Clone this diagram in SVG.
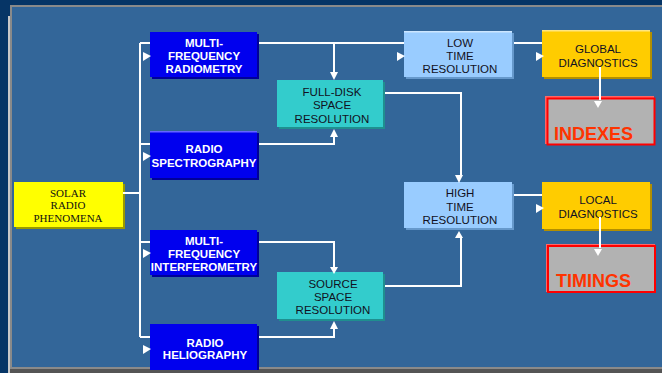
<svg xmlns="http://www.w3.org/2000/svg" width="662" height="373" viewBox="0 0 662 373">
<defs>
<style>
.t{font-family:"Liberation Sans",Arial,sans-serif;font-size:11.5px;text-anchor:middle}
.w{fill:#ffffff;font-weight:bold}
.d{fill:#111122}
.big{font-family:"Liberation Sans",Arial,sans-serif;font-size:18px;font-weight:bold;fill:#ff3300}
.ser{font-family:"Liberation Serif","Times New Roman",serif;font-size:11px;text-anchor:middle;fill:#111111}
.ln{fill:none;stroke:#ffffff;stroke-width:2}
.ah{fill:#ffffff}
</style>
</defs>
<rect x="0" y="0" width="662" height="373" fill="#063566"/>
<rect x="10" y="5" width="652" height="365" fill="#336699"/>
<rect x="10" y="5" width="652" height="2" fill="#8a8a8a"/>
<rect x="10" y="5" width="2" height="365" fill="#8a8a8a"/>
<rect x="8" y="16" width="2" height="357" fill="#c8c8c8"/>
<rect x="10" y="367" width="652" height="2" fill="#8a8a8a"/>
<rect x="10" y="369" width="652" height="4" fill="#555555"/>

<g id="solar">
<rect x="16" y="184" width="109" height="45" fill="#999900"/>
<rect x="14" y="182" width="109" height="45" fill="#ffff00"/>
<text class="ser" x="68" y="197">SOLAR</text>
<text class="ser" x="68" y="209">RADIO</text>
<text class="ser" x="68" y="222">PHENOMENA</text>
</g>

<g id="radiometry">
<rect x="152" y="34" width="107" height="45" fill="#000099"/>
<rect x="150" y="32" width="107" height="45" fill="#0000ee"/>
<text class="t w" x="204" y="47">MULTI-</text>
<text class="t w" x="204" y="60">FREQUENCY</text>
<text class="t w" x="204" y="73">RADIOMETRY</text>
</g>

<g id="spectrography">
<rect x="152" y="133" width="107" height="47" fill="#000099"/>
<rect x="150" y="131" width="107" height="47" fill="#0000ee"/>
<rect x="150" y="131" width="107" height="1.5" fill="#6666ff"/>
<text class="t w" x="204" y="153">RADIO</text>
<text class="t w" x="204" y="167">SPECTROGRAPHY</text>
</g>

<g id="interferometry">
<rect x="152" y="232" width="107" height="45" fill="#000099"/>
<rect x="150" y="230" width="107" height="45" fill="#0000ee"/>
<text class="t w" x="204" y="245">MULTI-</text>
<text class="t w" x="204" y="258">FREQUENCY</text>
<text class="t w" x="204" y="271">INTERFEROMETRY</text>
</g>

<g id="heliography">
<rect x="152" y="326" width="107" height="44" fill="#000099"/>
<rect x="150" y="324" width="107" height="46" fill="#0000ee"/>
<text class="t w" x="205" y="347">RADIO</text>
<text class="t w" x="205" y="359">HELIOGRAPHY</text>
</g>

<g id="fulldisk">
<rect x="279" y="82" width="106" height="47" fill="#1f8f8f"/>
<rect x="277" y="80" width="106" height="47" fill="#33cccc"/>
<text class="t d" x="332" y="96">FULL-DISK</text>
<text class="t d" x="332" y="109">SPACE</text>
<text class="t d" x="332" y="123">RESOLUTION</text>
</g>

<g id="source">
<rect x="279" y="274" width="106" height="47" fill="#1f8f8f"/>
<rect x="277" y="272" width="106" height="47" fill="#33cccc"/>
<text class="t d" x="333" y="288">SOURCE</text>
<text class="t d" x="333" y="301">SPACE</text>
<text class="t d" x="333" y="314">RESOLUTION</text>
</g>

<g id="lowtime">
<rect x="406" y="33" width="108" height="46" fill="#6699cc"/>
<rect x="404" y="31" width="108" height="46" fill="#99ccff"/>
<rect x="404" y="31" width="108" height="1.5" fill="#cce6ff"/>
<text class="t d" x="460" y="47">LOW</text>
<text class="t d" x="460" y="60">TIME</text>
<text class="t d" x="460" y="73">RESOLUTION</text>
</g>

<g id="hightime">
<rect x="406" y="184" width="108" height="46" fill="#6699cc"/>
<rect x="404" y="182" width="108" height="46" fill="#99ccff"/>
<text class="t d" x="460" y="197">HIGH</text>
<text class="t d" x="460" y="211">TIME</text>
<text class="t d" x="460" y="224">RESOLUTION</text>
</g>

<g id="global">
<rect x="544" y="32" width="108" height="47" fill="#b38f00"/>
<rect x="542" y="30" width="108" height="47" fill="#ffcc00"/>
<rect x="542" y="30" width="108" height="1.5" fill="#ffe680"/>
<text class="t d" x="598" y="53">GLOBAL</text>
<text class="t d" x="598" y="67">DIAGNOSTICS</text>
</g>

<g id="local">
<rect x="544" y="184" width="108" height="47" fill="#b38f00"/>
<rect x="542" y="182" width="108" height="47" fill="#ffcc00"/>
<text class="t d" x="598" y="204">LOCAL</text>
<text class="t d" x="598" y="218">DIAGNOSTICS</text>
</g>

<g id="indexes">
<rect x="545" y="96" width="109" height="48" fill="#ff6666"/>
<rect x="547.5" y="98.5" width="107" height="46" fill="#b2b2b2" stroke="#ff0000" stroke-width="2"/>
<text class="big" x="554" y="140">INDEXES</text>
</g>

<g id="timings">
<rect x="546" y="244" width="109" height="48" fill="#ff6666"/>
<rect x="548" y="246" width="107" height="46" fill="#b2b2b2" stroke="#ff0000" stroke-width="2"/>
<text class="big" x="556" y="287">TIMINGS</text>
</g>

<g id="connectors">
<path class="ln" d="M123,193 H140 M140,43 V337 M140,43 H150 M140,144 H150 M140,242 H150 M140,337 H150"/>
<path class="ln" d="M259,43 H404 M334,43 V74"/>
<path class="ln" d="M259,144 H334 V132"/>
<path class="ln" d="M385,93 H461 V176"/>
<path class="ln" d="M385,286 H461 V236"/>
<path class="ln" d="M259,242 H334 V268"/>
<path class="ln" d="M259,337 H334 V324"/>
<path class="ln" d="M514,43 H542"/>
<path class="ln" d="M514,195 H542"/>
<path class="ln" d="M600,67 V100"/>
<path class="ln" d="M600,217 V248"/>
<path class="ah" d="M143,52 L151,56 L143,61 Z"/>
<path class="ah" d="M143,152 L151,156 L143,161 Z"/>
<path class="ah" d="M143,249 L151,253 L143,258 Z"/>
<path class="ah" d="M143,345 L151,349 L143,354 Z"/>
<path class="ah" d="M397,52 L405,56 L397,61 Z"/>
<path class="ah" d="M536,52 L544,56 L536,61 Z"/>
<path class="ah" d="M536,204 L544,208 L536,213 Z"/>
<path class="ah" d="M330,72 L338,72 L334,80 Z"/>
<path class="ah" d="M330,137 L338,137 L334,129 Z"/>
<path class="ah" d="M330,267 L338,267 L334,274 Z"/>
<path class="ah" d="M330,329 L338,329 L334,321 Z"/>
<path class="ah" d="M455,175 L463,175 L459,183 Z"/>
<path class="ah" d="M455,238 L463,238 L459,231 Z"/>
<path class="ah" d="M594,101 L602,101 L598,108 Z"/>
<path class="ah" d="M594,249 L602,249 L598,256 Z"/>
</g>
</svg>
